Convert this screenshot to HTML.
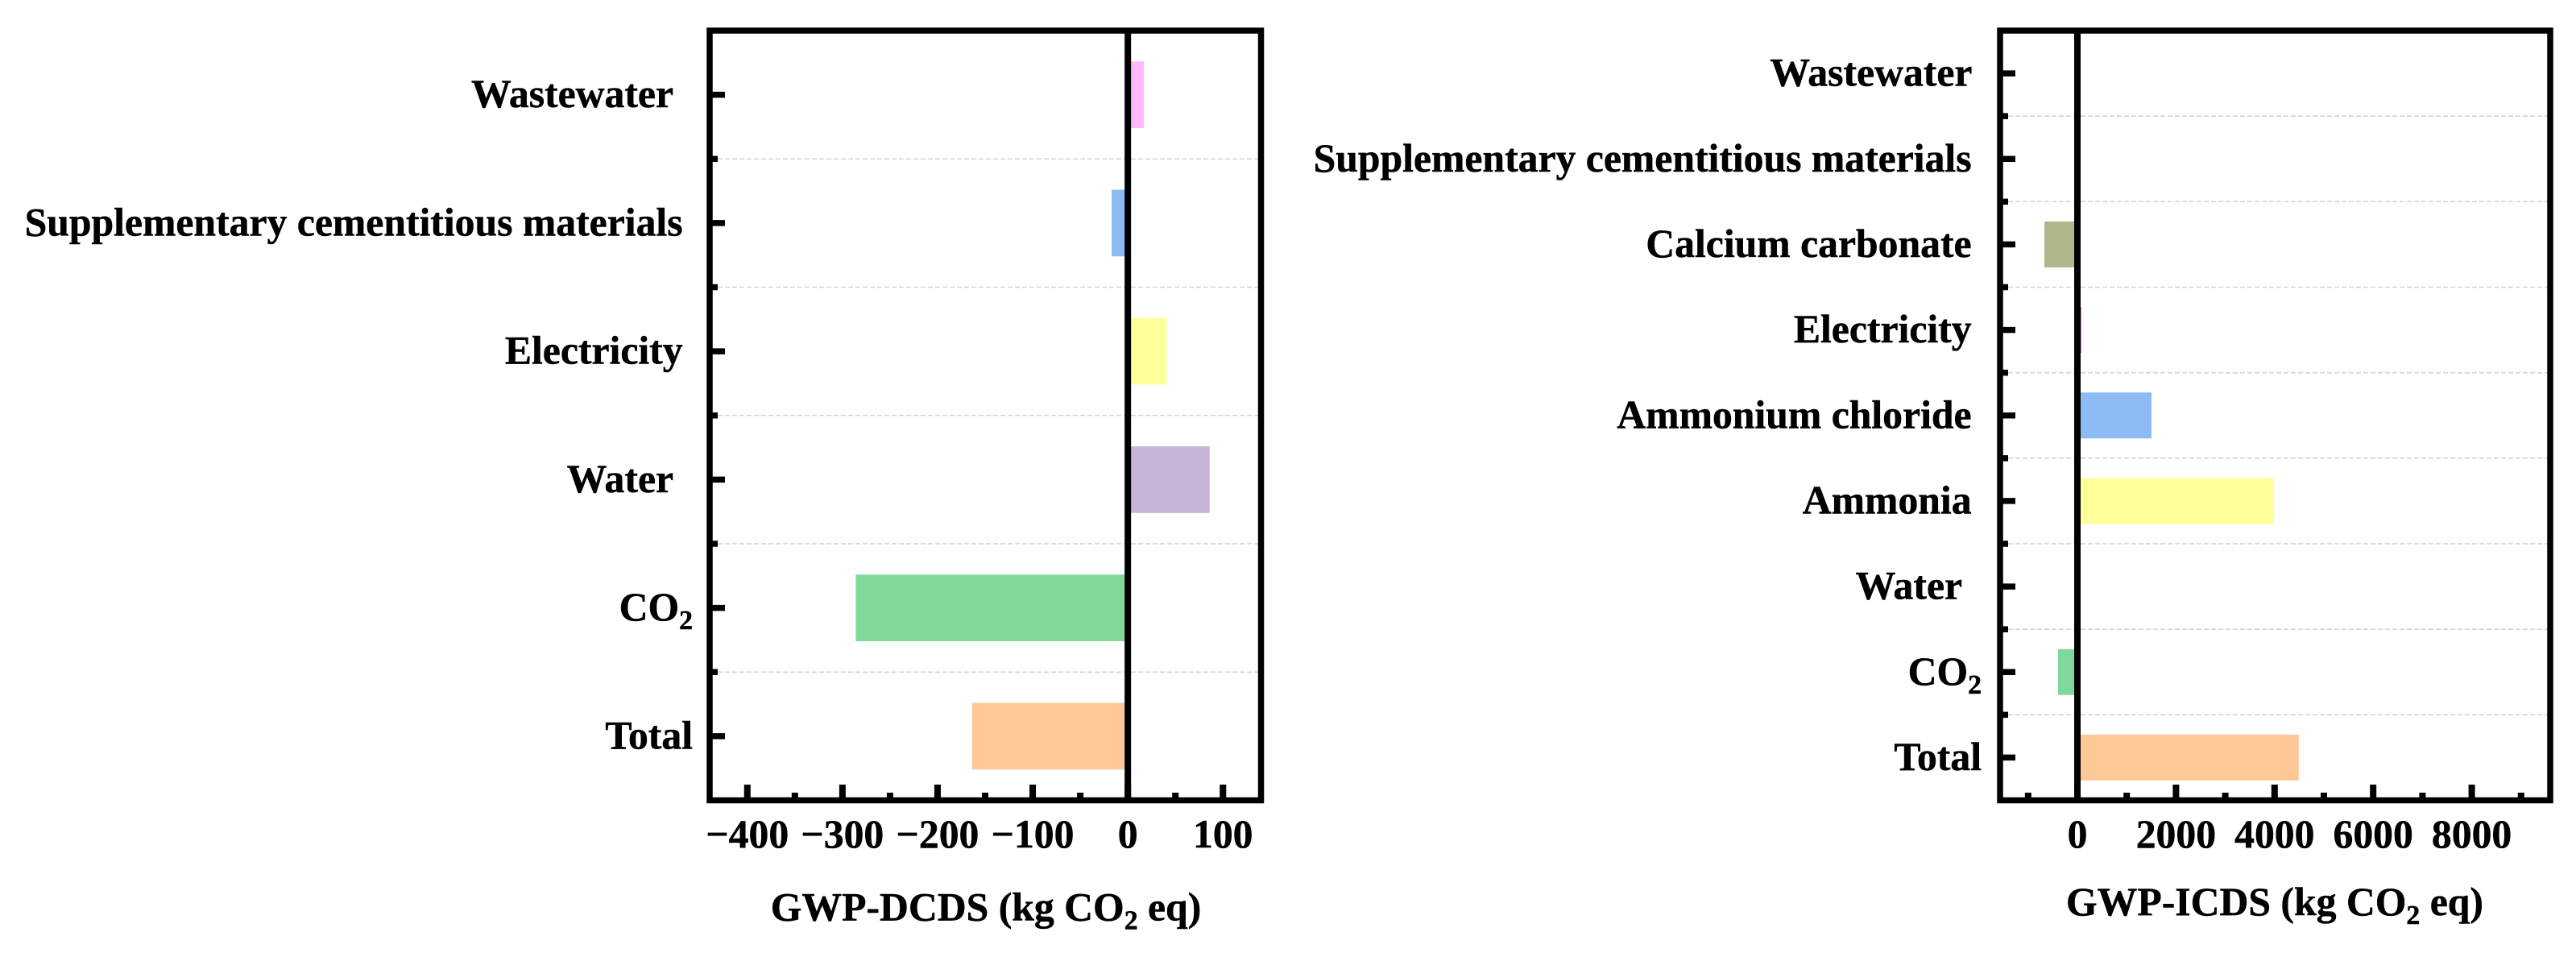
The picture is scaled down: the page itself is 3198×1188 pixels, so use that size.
<!DOCTYPE html>
<html lang="en">
<head>
<meta charset="utf-8">
<title>GWP bar charts</title>
<style>
  html, body { margin: 0; padding: 0; background: #fff; }
  body { width: 3198px; height: 1188px; overflow: hidden; }
  svg { display: block; }
  text { font-family: "Liberation Serif", serif; font-weight: bold; fill: #000; white-space: pre; stroke: #000; stroke-width: 0.5px; }
</style>
</head>
<body>
<svg id="chart" xmlns="http://www.w3.org/2000/svg" width="3198" height="1188" viewBox="0 0 3198 1188"></svg>
<script>
// DCDS panel data (bottom to top)
const dcdsCategories = ["Total", "CO2", "Water  ", "Electricity ", "Supplementary cementitious materials ", "Wastewater  "];
const dcdsValues = [-163.7, -286, 86, 40.6, -17, 16.9];
const dcdsColors = ["#FFC896", "#80D99B", "#C8B4D8", "#FFFF99", "#8CBBF6", "#FFB9F9"];
const dcdsMajorTicks = [-400, -300, -200, -100, 0, 100];
const dcdsMinorTicks = [-350, -250, -150, -50, 50];
const dcdsDomain = [-439.6, 140];
// ICDS panel data (bottom to top)
const icdsCategories = ["Total", "CO2", "Water  ", "Ammonia ", "Ammonium chloride ", "Electricity ", "Calcium carbonate ", "Supplementary cementitious materials ", "Wastewater "];
const icdsValues = [4490, -394, 10, 3975, 1503, 84, -670, 5, 5];
const icdsColors = ["#FFC896", "#80D99B", "#C8B4D8", "#FFFF99", "#8CBBF6", "#D88FCB", "#B0B78D", "#8CBBF6", "#FFB9F9"];
const icdsMajorTicks = [0, 2000, 4000, 6000, 8000];
const icdsMinorTicks = [-1000, 1000, 3000, 5000, 7000, 9000];
const icdsDomain = [-1569, 9592];

const NS = 'http://www.w3.org/2000/svg';
const svg = document.getElementById('chart');
const TOP = 38, BOTTOM = 993.5, FONT = 49.7;

function make(parent, tag, attrs) {
  const el = document.createElementNS(NS, tag);
  for (const k in attrs) el.setAttribute(k, attrs[k]);
  parent.appendChild(el);
  return el;
}
function fmt(v) { return v < 0 ? '\u2212' + Math.abs(v) : String(v); }

function addSubscriptText(textEl, str) {
  // renders "CO2" with a subscript 2, leaves the rest as plain text
  const i = str.indexOf('CO2');
  if (i < 0) { textEl.textContent = str; return; }
  const a = make(textEl, 'tspan', {});
  a.textContent = str.slice(0, i + 2);
  const s = make(textEl, 'tspan', { dy: 11, 'font-size': FONT * 0.68 });
  s.textContent = '2';
  const b = make(textEl, 'tspan', { dy: -11 });
  b.textContent = str.slice(i + 3);
}

function drawPanel(p) {
  const g = make(svg, 'g', {});
  
  
  const x = v => p.left + (v - p.domain[0]) / (p.domain[1] - p.domain[0]) * (p.right - p.left);
  const band = (BOTTOM - TOP) / p.categories.length;
  const y = i => BOTTOM - band * (i + 0.5);
  const n = p.categories.length;

  // gridlines and minor category ticks at band edges
  for (let i = 1; i < n; i++) {
    const yy = BOTTOM - band * i;
    const grid = make(g, 'line', { x1: p.left + 10, x2: p.right - 3, y1: yy, y2: yy, stroke: '#d3d3d3', 'stroke-width': 1.6, 'stroke-dasharray': '6 3' });
    
    
    const t = make(g, 'line', { x1: p.left, x2: p.left + 10, y1: yy, y2: yy, stroke: '#000', 'stroke-width': 7.5 });
    
    
  }

  // bars
  p.values.forEach((v, i) => {
    const x0 = x(0), x1 = x(v);
    const r = make(g, 'rect', { x: Math.min(x0, x1), width: Math.abs(x1 - x0), y: y(i) - p.barHeight / 2, height: p.barHeight, fill: p.colors[i] });
    
    
  });

  // category ticks and labels
  p.categories.forEach((c, i) => {
    const t = make(g, 'line', { x1: p.left, x2: p.left + 19, y1: y(i), y2: y(i), stroke: '#000', 'stroke-width': 7.5 });
    
    
    const lab = make(g, 'text', { x: p.labelX, y: y(i) + 15.5, 'text-anchor': 'end', 'font-size': FONT });
    
    
    addSubscriptText(lab, c);
  });

  // value axis ticks
  p.minor.forEach(v => {
    const t = make(g, 'line', { x1: x(v), x2: x(v), y1: BOTTOM, y2: 984, stroke: '#000', 'stroke-width': 8 });
    
    
  });
  p.major.forEach(v => {
    const t = make(g, 'line', { x1: x(v), x2: x(v), y1: BOTTOM, y2: 974, stroke: '#000', 'stroke-width': 8 });
    
    
    const lab = make(g, 'text', { x: x(v), y: 1052, 'text-anchor': 'middle', 'font-size': FONT });
    
    
    lab.textContent = fmt(v);
  });

  // zero line
  const z = make(g, 'line', { x1: x(0), x2: x(0), y1: TOP, y2: BOTTOM, stroke: '#000', 'stroke-width': 8 });
  
  

  // frame
  const f = make(g, 'rect', { x: p.left, y: TOP, width: p.right - p.left, height: BOTTOM - TOP, fill: 'none', stroke: '#000', 'stroke-width': 7.5 });
  
  

  // axis title
  const title = make(g, 'text', { x: p.titleX, y: p.titleY, 'text-anchor': 'middle', 'font-size': FONT });
  
  
  addSubscriptText(title, p.title);
}

drawPanel({
  name: 'dcds-panel', categories: dcdsCategories, values: dcdsValues, colors: dcdsColors,
  major: dcdsMajorTicks, minor: dcdsMinorTicks, domain: dcdsDomain,
  left: 881, right: 1565.5, labelX: 860, barHeight: 82.7,
  title: 'GWP-DCDS (kg CO2 eq)', titleX: 1224, titleY: 1142.5
});
drawPanel({
  name: 'icds-panel', categories: icdsCategories, values: icdsValues, colors: icdsColors,
  major: icdsMajorTicks, minor: icdsMinorTicks, domain: icdsDomain,
  left: 2483, right: 3166, labelX: 2460, barHeight: 57,
  title: 'GWP-ICDS (kg CO2 eq)', titleX: 2824, titleY: 1136
});
</script>
</body>
</html>
